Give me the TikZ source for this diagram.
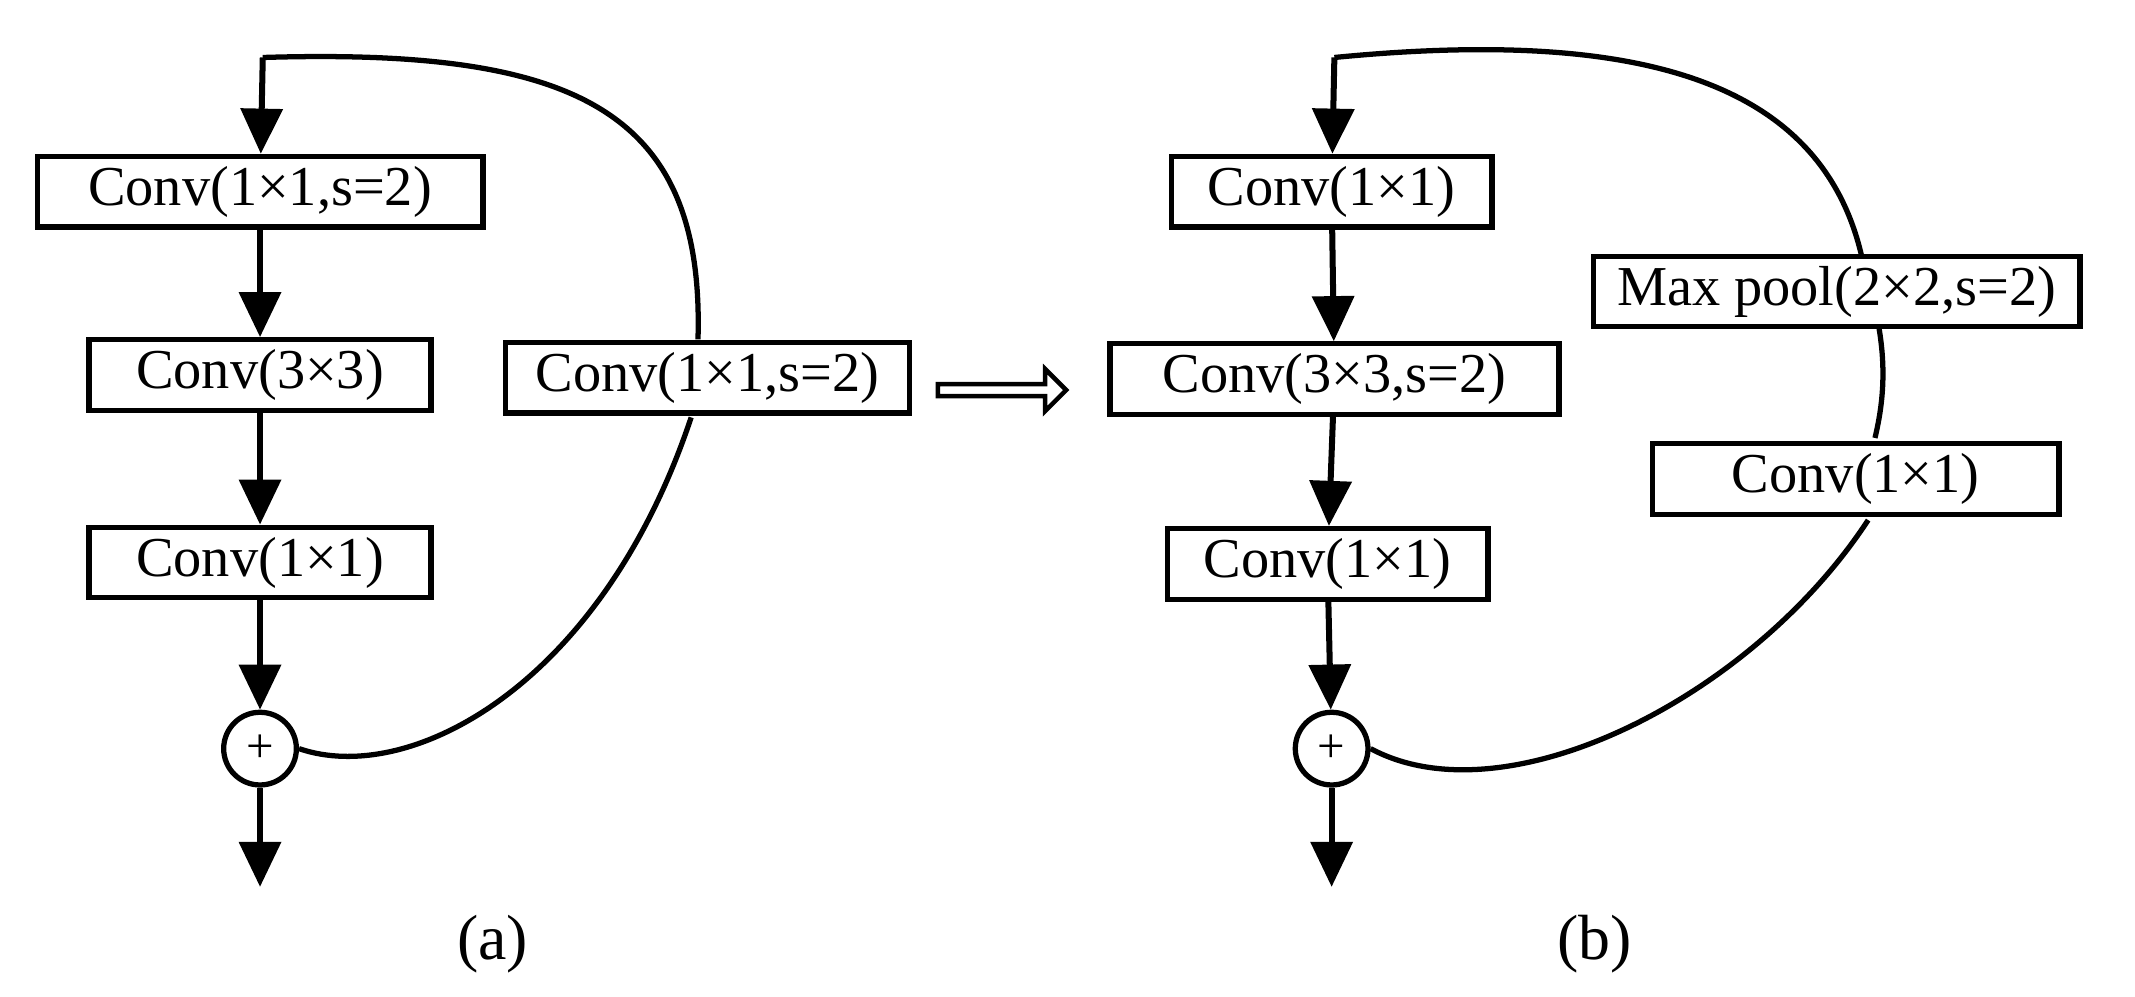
\documentclass[tikz,border=0pt]{standalone}
\usepackage{fontspec}
\setmainfont{Liberation Serif}
\usetikzlibrary{arrows.meta,shapes.arrows}

\tikzset{
  blk/.style={draw, line width=1.4pt, minimum height=0.66cm, inner sep=2pt, font=\fontsize{15}{18}\selectfont},
  arr/.style={line width=1.6pt, -{Triangle[length=12pt,width=11pt]}},
  skip/.style={line width=1.4pt},
  sum/.style={draw, circle, line width=1.4pt, minimum size=0.68cm, inner sep=0pt, font=\fontsize{13}{13}\selectfont}
}

\begin{document}
\begin{tikzpicture}[x=0.0128cm, y=-0.0128cm]
\useasboundingbox (0,0) rectangle (1560,728);

% (a)
\coordinate (ina) at (192,42);
\node[blk, minimum width=4.17cm] (a1) at (190,140) {Conv(1×1,s=2)};
\node[blk, minimum width=3.2cm] (a2) at (190,274) {Conv(3×3)};
\node[blk, minimum width=3.2cm] (a3) at (190,411) {Conv(1×1)};
\node[sum] (suma) at (190,547) {+};
\coordinate (outa) at (190,648);
\node[blk, minimum width=3.78cm] (sca) at (517,276) {Conv(1×1,s=2)};
\node[font=\fontsize{17}{17}\selectfont] (la) at (360,690) {(a)};

\draw[arr] (ina) -- (a1);
\draw[arr] (a1) -- (a2);
\draw[arr] (a2) -- (a3);
\draw[arr] (a3) -- (suma);
\draw[arr] (suma) -- (outa);
\draw[skip] (ina) .. controls (420,35) and (515,80) .. (510,248);
\draw[skip] (505,305) .. controls (440,500) and (300,575) .. (suma.east);

% transition
\node[single arrow, draw, line width=1.2pt, minimum height=1.2cm, single arrow head extend=4pt, minimum width=0.3cm, inner sep=1pt, shape border rotate=0] (tr) at (730,285) {};

% (b)
\coordinate (inb) at (975,42);
\node[blk, minimum width=3.0cm] (b1) at (973,140) {Conv(1×1)};
\node[blk, minimum width=4.2cm] (b2) at (975,277) {Conv(3×3,s=2)};
\node[blk, minimum width=3.0cm] (b3) at (970,412) {Conv(1×1)};
\node[sum] (sumb) at (973,547) {+};
\coordinate (outb) at (973,648);
\node[blk, minimum width=4.55cm] (mp) at (1342,213) {Max pool(2×2,s=2)};
\node[blk, minimum width=3.8cm] (cb) at (1356,350) {Conv(1×1)};
\node[font=\fontsize{17}{17}\selectfont] (lb) at (1165,690) {(b)};

\draw[arr] (inb) -- (b1);
\draw[arr] (b1) -- (b2);
\draw[arr] (b2) -- (b3);
\draw[arr] (b3) -- (sumb);
\draw[arr] (sumb) -- (outb);
\draw[skip] (inb) .. controls (1200,20) and (1330,60) .. (1360,186);
\draw[skip] (1373,240) .. controls (1378,270) and (1376,295) .. (1370,320);
\draw[skip] (1365,380) .. controls (1280,510) and (1100,600) .. (sumb.east);
\end{tikzpicture}
\end{document}
